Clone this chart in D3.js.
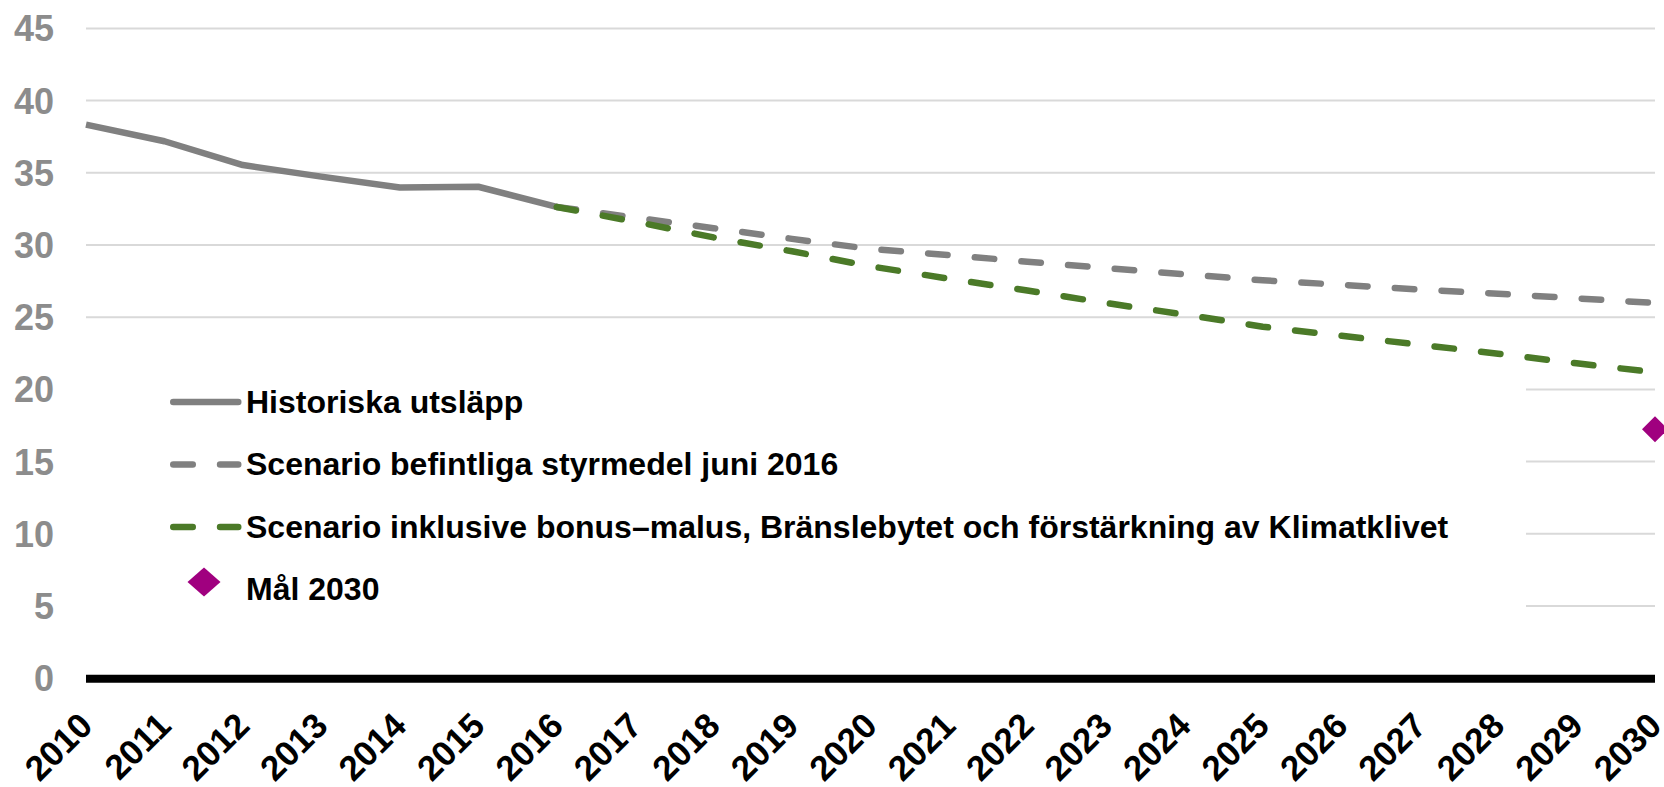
<!DOCTYPE html>
<html>
<head>
<meta charset="utf-8">
<script src="https://cdn.jsdelivr.net/npm/d3@7"></script>
<style>
  html, body { margin: 0; padding: 0; background: #ffffff; }
  svg { display: block; }
  text { font-family: "Liberation Sans", Arial, Helvetica, sans-serif; font-weight: bold; }
</style>
</head>
<body>
<svg id="chart" width="1664" height="787"></svg>
<script>
// ---------- DATA ----------
const years = [2010, 2011, 2012, 2013, 2014, 2015, 2016, 2017, 2018, 2019, 2020,
               2021, 2022, 2023, 2024, 2025, 2026, 2027, 2028, 2029, 2030];
const yTicks = [0, 5, 10, 15, 20, 25, 30, 35, 40, 45];

const histYears = [2010, 2011, 2012, 2013, 2014, 2015, 2016];
const histValues = [38.3, 37.15, 35.5, 34.7, 33.95, 34.0, 32.6];

const scenYears = [2016, 2017, 2018, 2019, 2020, 2021, 2022, 2023, 2024, 2025, 2026, 2027, 2028, 2029, 2030];
const befintligaValues = [32.6, 31.86, 31.13, 30.39, 29.69, 29.27, 28.81, 28.37, 27.94, 27.52, 27.21, 26.88, 26.59, 26.27, 25.95];
const inklusiveValues  = [32.6, 31.58, 30.49, 29.53, 28.49, 27.63, 26.81, 25.95, 25.15, 24.31, 23.68, 23.06, 22.44, 21.77, 21.15];

const targetYears = [2030];
const targetValues = [17.2];

const legendLabels = [
  "Historiska utsläpp",
  "Scenario befintliga styrmedel juni 2016",
  "Scenario inklusive bonus–malus, Bränslebytet och förstärkning av Klimatklivet",
  "Mål 2030"
];

// ---------- STYLE ----------
const GRAY = "#808080";
const GREEN = "#4b7a28";
const PURPLE = "#a0007f";
const GRID = "#d9d9d9";
const LW = 6.5;
const DASH = "19.5,27.3";

const svg = d3.select("#chart");

const x = d3.scalePoint().domain(years).range([86, 1655]);
const y = d3.scaleLinear().domain([0, 45]).range([677.7, 27.9]);

// gridlines
svg.append("g")
  .attr("transform", "translate(86,0)")
  .call(d3.axisLeft(y).tickValues(yTicks).tickSize(-(1655 - 86)).tickFormat(""))
  .call(g => g.select(".domain").remove())
  .call(g => g.selectAll("line").attr("stroke", GRID).attr("stroke-width", 2));

// y labels
svg.append("g")
  .attr("transform", "translate(86,0)")
  .call(d3.axisLeft(y).tickValues(yTicks).tickSize(0).tickPadding(32))
  .call(g => g.select(".domain").remove())
  .call(g => g.selectAll("text")
      .attr("fill", "#8c8c8c")
      .attr("font-size", 36)
      .attr("dy", "0.36em")
      .style("font-family", "'Liberation Sans', Arial, sans-serif")
      .style("font-weight", "bold"));

// legend background (covers gridlines)
svg.append("rect")
  .attr("x", 86).attr("y", 372)
  .attr("width", 1526 - 86).attr("height", 620 - 372)
  .attr("fill", "#ffffff");

// legend
const legendBase = [412.5, 475, 537.5, 600];
const legend = svg.append("g");
const diamondPath = (cx, cy, hw, hh) => `M${cx},${cy - hh}L${cx + hw},${cy}L${cx},${cy + hh}L${cx - hw},${cy}Z`;

legendLabels.forEach((lab, i) => {
  const yb = legendBase[i];
  const yc = yb - 10.5;
  if (i === 0) {
    legend.append("line").attr("x1", 173.25).attr("x2", 238.25).attr("y1", yc).attr("y2", yc)
      .attr("stroke", GRAY).attr("stroke-width", LW).attr("stroke-linecap", "round");
  } else if (i === 1 || i === 2) {
    legend.append("line").attr("x1", 173.25).attr("x2", 238.25).attr("y1", yc).attr("y2", yc)
      .attr("stroke", i === 1 ? GRAY : GREEN).attr("stroke-width", LW)
      .attr("stroke-linecap", "round").attr("stroke-dasharray", DASH);
  } else {
    legend.append("path").attr("d", diamondPath(204, 582, 16.5, 14.5)).attr("fill", PURPLE);
  }
  legend.append("text").attr("x", 246).attr("y", yb)
    .attr("font-size", 32).attr("fill", "#000").text(lab);
});

// lines
const line = d3.line().x(d => x(d[0])).y(d => y(d[1]));

svg.append("path")
  .datum(histYears.map((yr, i) => [yr, histValues[i]]))
  .attr("d", line).attr("fill", "none")
  .attr("stroke", GRAY).attr("stroke-width", LW)
  .attr("stroke-linejoin", "round").attr("stroke-linecap", "butt");

svg.append("path")
  .datum(scenYears.map((yr, i) => [yr, befintligaValues[i]]))
  .attr("d", line).attr("fill", "none")
  .attr("stroke", GRAY).attr("stroke-width", LW)
  .attr("stroke-linejoin", "round").attr("stroke-linecap", "round")
  .attr("stroke-dasharray", DASH);

svg.append("path")
  .datum(scenYears.map((yr, i) => [yr, inklusiveValues[i]]))
  .attr("d", line).attr("fill", "none")
  .attr("stroke", GREEN).attr("stroke-width", LW)
  .attr("stroke-linejoin", "round").attr("stroke-linecap", "round")
  .attr("stroke-dasharray", DASH);

// target marker
svg.selectAll("path.target")
  .data(targetYears.map((yr, i) => [yr, targetValues[i]]))
  .enter().append("path").attr("class", "target")
  .attr("d", d => diamondPath(x(d[0]), y(d[1]), 13, 13))
  .attr("fill", PURPLE);

// x axis line
svg.append("line")
  .attr("x1", x(2010)).attr("x2", x(2030))
  .attr("y1", y(0) + 1).attr("y2", y(0) + 1)
  .attr("stroke", "#000").attr("stroke-width", 8);

// x labels
svg.append("g")
  .attr("transform", `translate(0,${y(0)})`)
  .call(d3.axisBottom(x).tickSize(0))
  .call(g => g.select(".domain").remove())
  .call(g => g.selectAll("text")
      .attr("x", 0).attr("y", 0).attr("dy", 0)
      .attr("text-anchor", "end")
      .attr("transform", "translate(8,50) rotate(-45)")
      .attr("fill", "#000")
      .attr("font-size", 35)
      .style("font-family", "'Liberation Sans', Arial, sans-serif")
      .style("font-weight", "bold"));
</script>
</body>
</html>
